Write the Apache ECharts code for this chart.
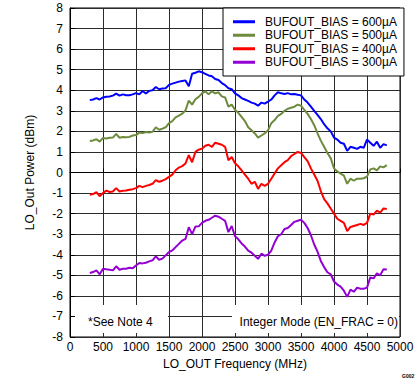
<!DOCTYPE html>
<html>
<head>
<meta charset="utf-8">
<script src="https://cdn.jsdelivr.net/npm/echarts@6/dist/echarts.min.js"></script>
<style>
html,body{margin:0;padding:0;background:#fff;}
#chart{width:419px;height:382px;}
</style>
</head>
<body>
<div id="chart"></div>
<script>
// Frequencies (MHz)
const freqMHz = [300,350,400,450,500,550,600,650,700,750,800,850,900,950,1000,1050,1100,1150,1200,1250,
1300,1350,1400,1450,1500,1550,1600,1650,1700,1750,1800,1850,1900,1950,2000,2050,2100,2150,2200,2250,
2300,2350,2400,2450,2500,2550,2600,2650,2700,2750,2800,2850,2900,2950,3000,3050,3100,3150,3200,3250,
3300,3350,3400,3450,3500,3550,3600,3650,3700,3750,3800,3850,3900,3950,4000,4050,4100,4150,4200,4250,
4300,4350,4400,4450,4500,4550,4600,4650,4700,4750,4800];

const bias600 = [3.52,3.55,3.62,3.55,3.65,3.68,3.70,3.74,3.84,3.74,3.80,3.76,3.76,3.80,3.86,3.80,3.96,3.84,3.97,4.00,
4.16,4.05,4.08,4.10,4.26,4.32,4.37,4.42,4.45,4.48,4.20,4.80,4.85,4.92,4.88,4.80,4.72,4.68,4.55,4.50,
4.35,4.25,4.10,4.05,3.85,3.75,3.62,3.55,3.48,3.40,3.35,3.25,3.40,3.35,3.45,3.55,3.75,3.90,3.85,3.82,
3.86,3.80,3.82,3.78,3.75,3.55,3.40,3.20,3.00,2.80,2.60,2.35,2.15,2.00,1.70,1.60,1.45,1.40,1.05,1.25,
1.20,1.15,1.25,1.20,1.60,1.45,1.30,1.50,1.20,1.38,1.32];

const bias500 = [1.53,1.56,1.62,1.50,1.68,1.65,1.69,1.70,1.88,1.69,1.73,1.72,1.73,1.80,1.82,1.94,1.92,1.97,1.95,1.98,
2.20,2.08,2.13,2.20,2.40,2.50,2.68,2.77,2.86,3.02,3.50,3.30,3.56,3.68,3.85,3.95,3.80,3.95,3.85,3.90,
3.70,3.65,3.20,3.30,3.05,2.90,2.70,2.50,2.20,2.05,1.90,1.70,1.80,1.90,2.05,2.40,2.55,2.75,2.85,3.00,
3.10,3.15,3.20,3.30,3.25,3.05,2.85,2.60,2.30,1.90,1.55,1.25,0.95,0.70,0.20,0.05,-0.05,-0.15,-0.55,-0.30,
-0.40,-0.30,-0.30,-0.28,-0.20,0.15,0.20,0.10,0.30,0.25,0.36];

const bias400 = [-1.08,-1.05,-0.96,-1.15,-1.00,-0.88,-0.95,-0.92,-0.76,-0.92,-0.89,-0.88,-0.84,-0.81,-0.76,-0.65,-0.71,-0.65,-0.61,-0.55,
-0.37,-0.45,-0.40,-0.32,-0.21,-0.10,0.11,0.24,0.31,0.44,0.84,0.50,1.00,1.11,1.16,1.30,1.35,1.25,1.45,1.40,
1.35,1.25,0.60,0.75,0.45,0.30,0.10,-0.10,-0.30,-0.55,-0.45,-0.80,-0.55,-0.65,-0.55,-0.30,-0.05,0.20,0.35,0.50,
0.60,0.80,0.90,1.00,0.95,0.75,0.55,0.20,-0.10,-0.40,-0.90,-1.30,-1.50,-1.75,-2.00,-2.25,-2.35,-2.45,-2.85,-2.65,
-2.60,-2.55,-2.50,-2.55,-2.45,-2.00,-2.05,-1.85,-1.95,-1.75,-1.78];

const bias300 = [-4.89,-4.84,-4.76,-4.95,-4.68,-4.71,-4.73,-4.76,-4.56,-4.73,-4.68,-4.68,-4.63,-4.66,-4.52,-4.40,-4.42,-4.39,-4.32,-4.27,
-4.08,-4.24,-4.19,-4.03,-3.87,-3.79,-3.63,-3.47,-3.31,-3.23,-2.66,-3.00,-2.63,-2.62,-2.45,-2.35,-2.30,-2.20,-2.10,-2.15,
-2.25,-2.35,-2.90,-2.60,-3.10,-3.25,-3.45,-3.60,-3.80,-3.90,-4.05,-4.20,-3.95,-4.05,-4.00,-3.80,-3.40,-3.10,-3.00,-2.75,
-2.70,-2.55,-2.40,-2.35,-2.30,-2.45,-2.70,-3.05,-3.50,-3.85,-4.30,-4.60,-4.85,-4.95,-5.30,-5.45,-5.55,-5.75,-6.05,-5.70,
-5.80,-5.60,-5.65,-5.65,-5.60,-5.10,-5.15,-4.90,-5.00,-4.70,-4.72];

const seriesNames = ['BUFOUT_BIAS = 600µA','BUFOUT_BIAS = 500µA','BUFOUT_BIAS = 400µA','BUFOUT_BIAS = 300µA'];
const seriesColors = ['#0000FF','#6E8B3D','#FF0000','#9400D3'];
const seriesValues = [bias600, bias500, bias400, bias300];

const FONT = '"Liberation Sans", Arial, sans-serif';
const chart = echarts.init(document.getElementById('chart'), null, {renderer:'svg'});

const option = {
  animation:false,
  backgroundColor:'#fff',
  textStyle:{fontFamily:FONT},
  grid:{left:70,right:19,top:8,bottom:45,show:true,borderColor:'#000',borderWidth:1,backgroundColor:'transparent'},
  xAxis:{
    type:'value',min:0,max:5000,interval:500,
    name:'LO_OUT Frequency (MHz)',nameLocation:'middle',nameGap:20,
    nameTextStyle:{color:'#000',fontSize:12,fontFamily:FONT},
    axisLine:{show:true,lineStyle:{color:'#000',width:1}},
    axisTick:{show:true,inside:true,length:4,lineStyle:{color:'#000'}},
    axisLabel:{color:'#000',fontSize:12,fontFamily:FONT,margin:4,formatter:(v)=>String(v)},
    splitLine:{show:true,lineStyle:{color:'#2b2b2b',width:1}}
  },
  yAxis:{
    type:'value',min:-8,max:8,interval:1,
    name:'LO_Out Power (dBm)',nameLocation:'middle',nameGap:34,
    nameTextStyle:{color:'#000',fontSize:12,fontFamily:FONT},
    axisLine:{show:true,lineStyle:{color:'#000',width:1}},
    axisTick:{show:true,inside:true,length:5,lineStyle:{color:'#000'}},
    axisLabel:{color:'#000',fontSize:12,fontFamily:FONT,margin:7,formatter:(v)=>String(v)},
    splitLine:{show:true,lineStyle:{color:'#2b2b2b',width:1}}
  },
  legend:{
    show:true,orient:'vertical',left:223,top:8,
    padding:[7,7,7,10],itemGap:0,itemWidth:22,itemHeight:3,icon:'rect',
    backgroundColor:'#fff',borderColor:'#000',borderWidth:1,borderRadius:0,
    textStyle:{color:'#000',fontSize:12,fontFamily:FONT,lineHeight:13.5,padding:[0,0,0,5]},
    data:seriesNames
  },
  series: seriesNames.map((n,k)=>({
    name:n,type:'line',showSymbol:false,symbol:'none',
    lineStyle:{color:seriesColors[k],width:2},
    itemStyle:{color:seriesColors[k]},
    z:3,
    data:freqMHz.map((f,i)=>[f, seriesValues[k][i]])
  })),
  graphic:[
    {type:'rect',shape:{x:75,y:305,width:93,height:28},style:{fill:'#fff'},z:10},
    {type:'rect',shape:{x:232,y:305,width:167,height:28},style:{fill:'#fff'},z:10},
    {type:'text',x:88,y:322,z:11,style:{text:'*See Note 4',fill:'#000',font:'12px '+FONT,textAlign:'left',textVerticalAlign:'middle'}},
    {type:'text',x:398,y:322,z:11,style:{text:'Integer Mode (EN_FRAC = 0)',fill:'#000',font:'12px '+FONT,textAlign:'right',textVerticalAlign:'middle'}},
    {type:'text',x:402,y:376,z:11,style:{text:'G002',fill:'#000',font:'bold 5px '+FONT,textAlign:'left',textVerticalAlign:'middle'}}
  ]
};
chart.setOption(option);
</script>
</body>
</html>
